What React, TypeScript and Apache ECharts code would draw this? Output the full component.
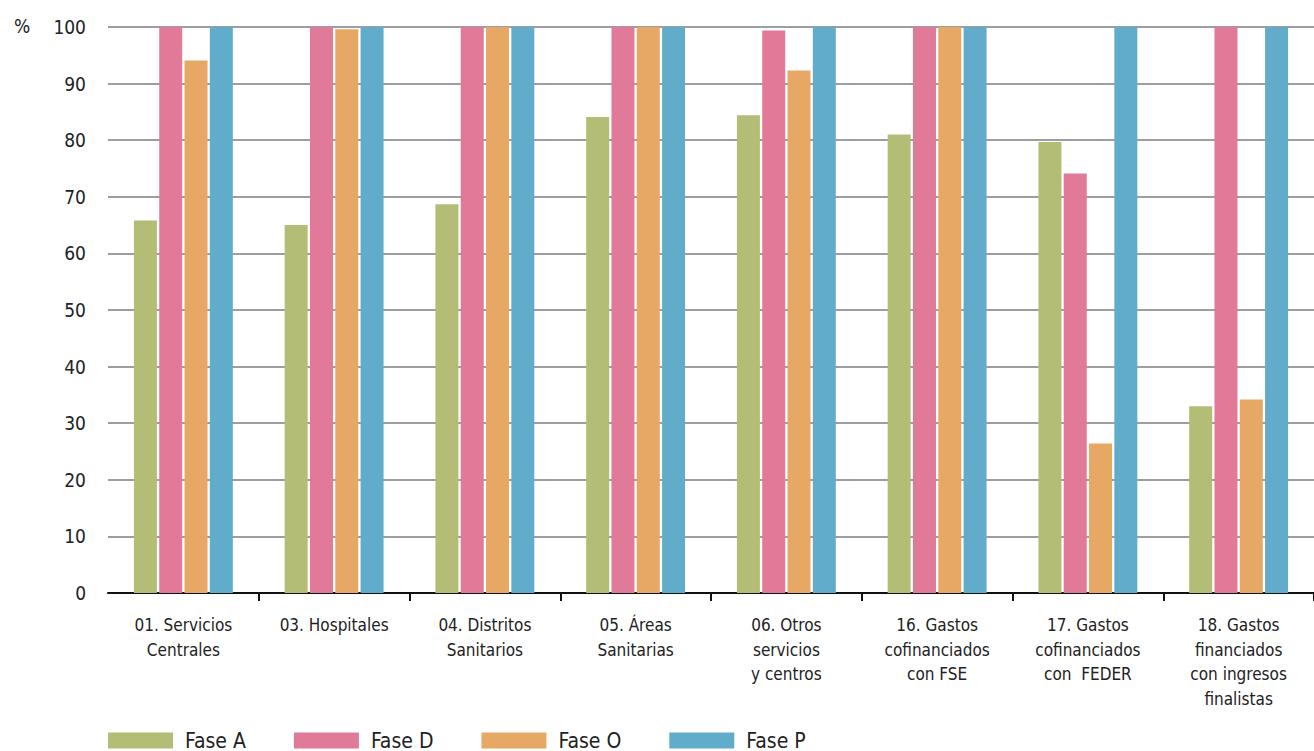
import React, { useEffect, useRef } from "react";
import * as echarts from "echarts";

const categories = [
  "01. Servicios\nCentrales",
  "03. Hospitales",
  "04. Distritos\nSanitarios",
  "05. Áreas\nSanitarias",
  "06. Otros\nservicios\ny centros",
  "16. Gastos\ncofinanciados\ncon FSE",
  "17. Gastos\ncofinanciados\ncon  FEDER",
  "18. Gastos\nfinanciados\ncon ingresos\nfinalistas",
];
const faseA = [65.8, 65.0, 68.7, 84.1, 84.4, 81.0, 79.7, 33.0];
const faseD = [100, 100, 100, 100, 99.4, 100, 74.1, 100];
const faseO = [94.1, 99.6, 100, 100, 92.3, 100, 26.4, 34.2];
const faseP = [100, 100, 100, 100, 100, 100, 100, 100];
const seriesNames = ["Fase A", "Fase D", "Fase O", "Fase P"];
const colors = ["#b4bd75", "#e07a98", "#e8a865", "#62accb"];

const FONT = "'Liberation Sans Narrow', 'DejaVu Sans Condensed', Roboto, sans-serif";

export default function App() {
  const ref = useRef<HTMLDivElement>(null);
  useEffect(() => {
    document.body.style.margin = "0";
    const chart = echarts.init(ref.current!, null, { renderer: "svg" });
    const data = [faseA, faseD, faseO, faseP];
    chart.setOption({
      animation: false,
      textStyle: { fontFamily: FONT },
      grid: { left: 108, right: -12, top: 27, bottom: 158, containLabel: false },
      graphic: [
        {
          type: "text",
          left: 14,
          top: 16,
          style: { text: "%", fontSize: 19, fill: "#222", fontFamily: FONT },
        },
      ],
      legend: {
        left: 108,
        top: 730,
        padding: 0,
        icon: "rect",
        itemWidth: 65,
        itemHeight: 16,
        itemGap: 48,
        textStyle: {
          fontSize: 21,
          lineHeight: 20,
          color: "#222",
          fontFamily: FONT,
          padding: [0, 0, 0, 7],
        },
        data: seriesNames,
      },
      xAxis: {
        type: "category",
        data: categories,
        axisLine: { lineStyle: { color: "#111", width: 2 } },
        axisTick: {
          show: true,
          length: 8,
          interval: (i: number) => i !== 0,
          lineStyle: { color: "#111", width: 2 },
        },
        axisLabel: {
          interval: 0,
          fontSize: 17,
          lineHeight: 24.5,
          color: "#222",
          margin: 20,
          fontFamily: FONT,
        },
      },
      yAxis: {
        type: "value",
        min: 0,
        max: 100,
        interval: 10,
        axisLine: { show: false },
        axisTick: { show: false },
        axisLabel: { fontSize: 19, color: "#222", margin: 22, fontFamily: FONT },
        splitLine: { lineStyle: { color: "#9d9da2", width: 2 } },
      },
      series: seriesNames.map((name, i) => ({
        name,
        type: "bar",
        data: data[i],
        barWidth: 23,
        barGap: "10%",
        itemStyle: { color: colors[i] },
      })),
    });
    return () => chart.dispose();
  }, []);
  return <div ref={ref} style={{ width: 1314, height: 751 }} />;
}
